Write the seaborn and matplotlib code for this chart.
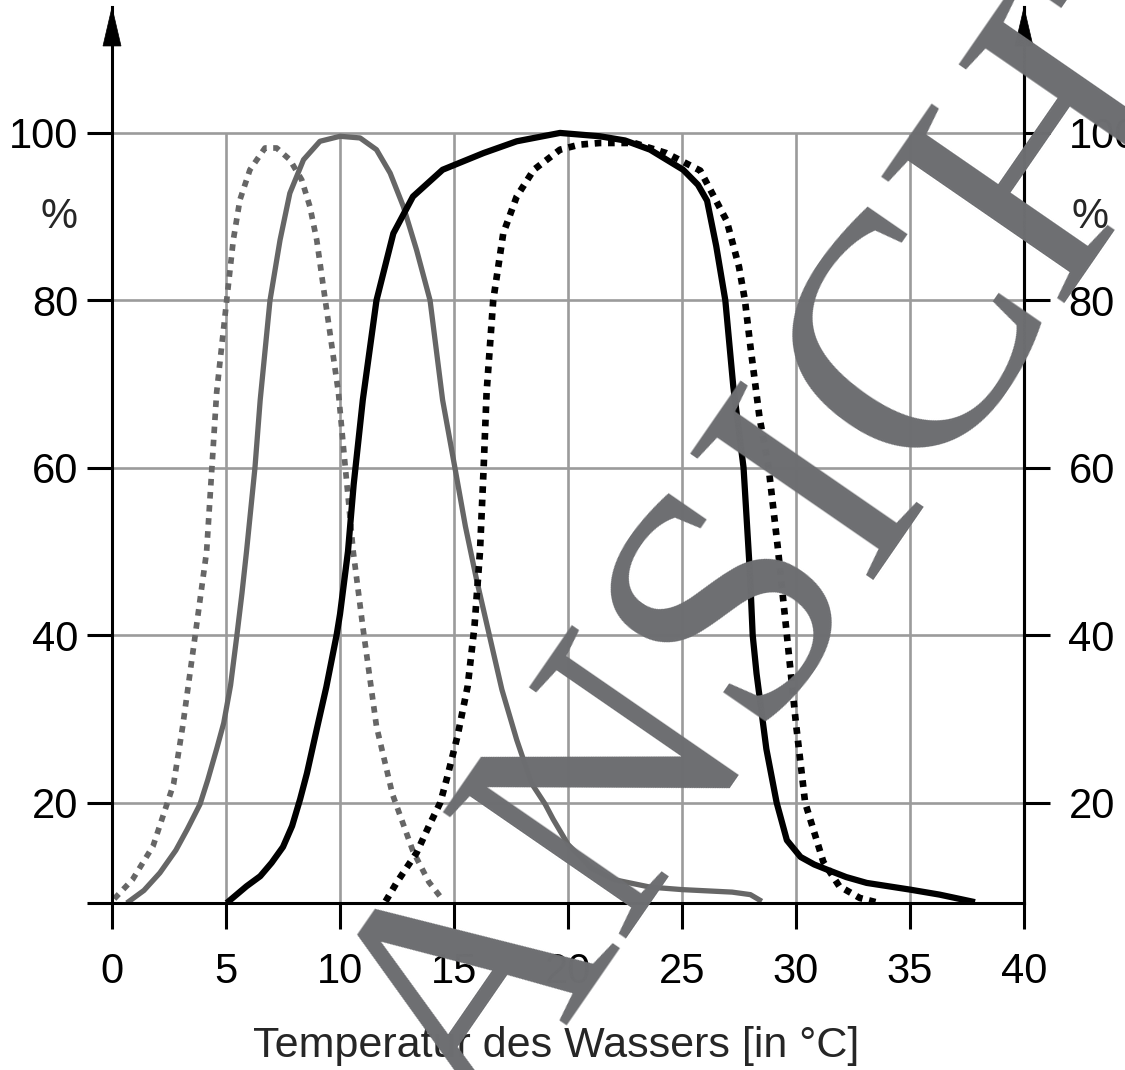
import numpy as np
import pandas as pd
import matplotlib
matplotlib.use("Agg")
import matplotlib.pyplot as plt
import seaborn as sns
from matplotlib.patches import Polygon
import matplotlib.transforms as mtrans

# ---------------- data ----------------
gray_dot_x = [0.1, 0.9, 1.8, 2.7, 3.1, 3.7, 4.15, 4.59, 5.03, 5.32, 5.61, 6.05, 6.71, 7.22,
              7.8, 8.32, 8.68, 8.98, 9.27, 9.56, 9.93, 10.2, 10.58, 11.0, 11.6, 12.3, 13.2, 13.9, 14.5]
gray_dot_y = [8.5, 10.8, 14.8, 22.2, 29.1, 41.0, 50.0, 69.0, 80.0, 87.2, 92.0, 95.6, 98.2, 98.2,
              96.8, 94.4, 91.2, 87.2, 81.6, 76.1, 69.0, 61.0, 50.0, 41.0, 29.1, 21.0, 14.2, 10.5, 8.4]

gray_sol_x = [0.65, 1.4, 2.1, 2.8, 3.3, 3.86, 4.2, 4.6, 4.9, 5.2, 5.47, 5.7, 5.9, 6.27, 6.5, 6.93,
              7.37, 7.8, 8.4, 9.12, 10.0, 10.88, 11.6, 12.2, 12.78, 13.36, 13.95, 14.5, 15.04,
              15.5, 16.0, 16.55, 17.1, 17.75, 18.4, 19.0, 19.35, 20.0, 21.0, 22.0, 23.6, 25.0,
              27.2, 28.0, 28.5]
gray_sol_y = [8.0, 9.5, 11.6, 14.3, 16.8, 19.8, 22.7, 26.5, 29.5, 34.0, 39.8, 45.0, 50.0, 60.0, 68.1, 80.0,
              87.2, 92.8, 96.8, 99.0, 99.6, 99.4, 98.0, 95.2, 91.2, 86.0, 80.0, 68.1, 60.0,
              53.0, 46.5, 40.0, 33.5, 27.5, 22.3, 19.8, 18.0, 15.0, 12.2, 10.8, 9.9, 9.6,
              9.3, 9.0, 8.2]

black_sol_x = [5.03, 5.9, 6.5, 7.0, 7.5, 7.9, 8.25, 8.55, 9.0, 9.4, 9.85, 10.0, 10.35, 10.6, 11.0,
               11.6, 12.34, 13.2, 14.5, 16.3, 17.75, 19.65, 21.4, 22.5,
               23.6, 25.05, 25.7, 26.1, 26.5, 26.9, 27.25, 27.7, 27.98, 28.1, 28.27, 28.7, 29.15,
               29.6, 30.2, 30.8, 31.35, 32.2, 33.1, 35.0, 36.3, 37.85]
black_sol_y = [8.0, 10.0, 11.2, 12.8, 14.7, 17.2, 20.4, 23.5, 29.0, 33.8, 40.0, 42.5, 50.0, 58.0, 68.1,
               80.0, 88.0, 92.4, 95.6, 97.6, 99.0, 100.0, 99.6, 99.1,
               98.0, 95.6, 93.8, 91.9, 86.5, 80.0, 69.7, 60.0, 47.4, 40.0, 35.4, 26.4, 20.0,
               15.5, 13.5, 12.6, 12.0, 11.1, 10.4, 9.6, 9.0, 8.1]

black_dot_x = [12.0, 12.5, 13.36, 13.9, 14.4, 14.7, 15.15, 15.6, 15.9, 16.14, 16.3, 16.43, 16.72,
               17.16, 17.75, 18.5, 19.65, 20.5, 21.4, 22.9, 24.3, 25.8, 26.96, 27.5, 27.76, 28.0, 28.4,
               28.8, 29.2, 29.6, 30.0, 30.4, 30.76, 31.2, 31.9, 32.8, 33.5]
black_dot_y = [8.2, 10.5, 14.0, 17.2, 20.0, 23.0, 27.9, 33.9, 41.1, 50.0, 60.0, 69.0, 80.0,
               88.0, 92.4, 95.6, 98.0, 98.6, 98.8, 98.8, 97.6, 95.5, 89.5, 84.0, 80.0, 74.5, 66.0,
               60.0, 50.5, 40.0, 29.4, 20.0, 16.8, 12.9, 10.0, 8.6, 8.1]

x_ticks = [0, 5, 10, 15, 20, 25, 30, 35, 40]
y_ticks = [20, 40, 60, 80, 100]
x_label = "Temperatur des Wassers [in °C]"
y_unit = "%"
watermark = "ANSICHT"

# ---------------- style ----------------
sns.set_theme(style="white")
plt.rcParams["font.family"] = ["Liberation Sans", "DejaVu Sans"]

W, H, DPI = 1125, 1070, 100
fig = plt.figure(figsize=(W / DPI, H / DPI), dpi=DPI)
fig.patch.set_facecolor("white")

X0, X1 = 0, 40
Y0, Y1 = 8.0, 115.0
left_px, right_px, bottom_px = 112, 1024, 903
top_px = 133 - (Y1 - 100) * 8.375
ax_h_px = bottom_px - top_px
ax = fig.add_axes([left_px / W, 1 - bottom_px / H, (right_px - left_px) / W, ax_h_px / H])
ax.set_xlim(X0, X1)
ax.set_ylim(Y0, Y1)
ax.set_facecolor("white")

GRID = "#9b9b9b"
GRAY = "#666666"
FS = 30

# grid limited to 100 %
ax.vlines(x_ticks[1:-1], Y0, 100, colors=GRID, lw=1.9, zorder=1)
ax.hlines(y_ticks, X0, X1, colors=GRID, lw=1.9, zorder=1)

series = [
    (gray_dot_x, gray_dot_y, GRAY, (1.15, 1.15), 4.1),
    (gray_sol_x, gray_sol_y, GRAY, None, 3.8),
    (black_sol_x, black_sol_y, "black", None, 4.5),
    (black_dot_x, black_dot_y, "black", (1.0, 1.0), 4.8),
]
for xs, ys, col, dots, lw in series:
    df = pd.DataFrame({"x": xs, "y": ys})
    n_before = len(ax.lines)
    sns.lineplot(data=df, x="x", y="y", ax=ax, color=col, sort=False, estimator=None,
                 linewidth=lw, zorder=3)
    for ln in ax.lines[n_before:]:
        ln.set_linewidth(lw)
        ln.set_solid_joinstyle("round")
        ln.set_dash_joinstyle("round")
        if dots is not None:
            ln.set_linestyle((0, dots))
            ln.set_dash_capstyle("butt")
        else:
            ln.set_solid_capstyle("butt")

# spines
ax.spines["top"].set_visible(False)
for s in ["left", "right", "bottom"]:
    ax.spines[s].set_color("black")
    ax.spines[s].set_linewidth(2.2)
    ax.spines[s].set_zorder(4)

ax.set_xlabel(x_label, fontsize=31)
ax.xaxis.set_label_coords((556 - left_px) / (right_px - left_px), -(1026 - bottom_px) / ax_h_px)
ax.set_ylabel("")
ax.set_xticks(x_ticks)
ax.set_xticklabels([str(v) for v in x_ticks])
ax.set_yticks([Y0] + y_ticks)
ax.set_yticklabels([""] + [str(v) for v in y_ticks])
ax.tick_params(axis="x", direction="out", length=19, width=2.2, pad=16, labelsize=FS, colors="black",
               bottom=True)
ax.tick_params(axis="y", direction="out", length=18, width=2.2, pad=6, labelsize=FS, colors="black",
               left=True, right=False)

ax2 = ax.twinx()
ax2.set_ylim(Y0, Y1)
ax2.set_yticks(y_ticks)
ax2.set_yticklabels([str(v) for v in y_ticks])
ax2.tick_params(axis="y", direction="out", length=19, width=2.2, pad=13, labelsize=FS, colors="black")
for s in ["top", "left", "bottom"]:
    ax2.spines[s].set_visible(False)
ax2.spines["right"].set_linewidth(2.2)
ax2.spines["right"].set_color("black")
ax2.grid(False)

# percent signs
blend = mtrans.blended_transform_factory(ax.transAxes, ax.transData)
ax.annotate(y_unit, xy=(0, 90), xycoords=blend, xytext=(-24.5, 0), textcoords="offset points",
            ha="right", va="center", fontsize=FS, annotation_clip=False)
ax.annotate(y_unit, xy=(1, 90), xycoords=blend, xytext=(34, 0), textcoords="offset points",
            ha="left", va="center", fontsize=FS, annotation_clip=False)

# arrow heads on the vertical axes
arrow_base = 100 + (133 - 46) / 8.375
for xa in (0, 1):
    tip = blend.transform((xa, Y1))
    base = blend.transform((xa, arrow_base))
    poly = Polygon([tip, (base[0] - 9, base[1]), (base[0] + 9, base[1])],
                   closed=True, transform=None, facecolor="black", edgecolor="black", lw=0.5,
                   clip_on=False, zorder=5)
    fig.add_artist(poly)

# watermark
fig.text(831 / W, 1 - 493.5 / H, watermark, fontsize=244, family="Liberation Serif",
         rotation=55.4, rotation_mode="anchor", ha="center", va="center", color="#6d6e71", zorder=10)

fig.savefig("out.png", dpi=DPI, facecolor="white")
